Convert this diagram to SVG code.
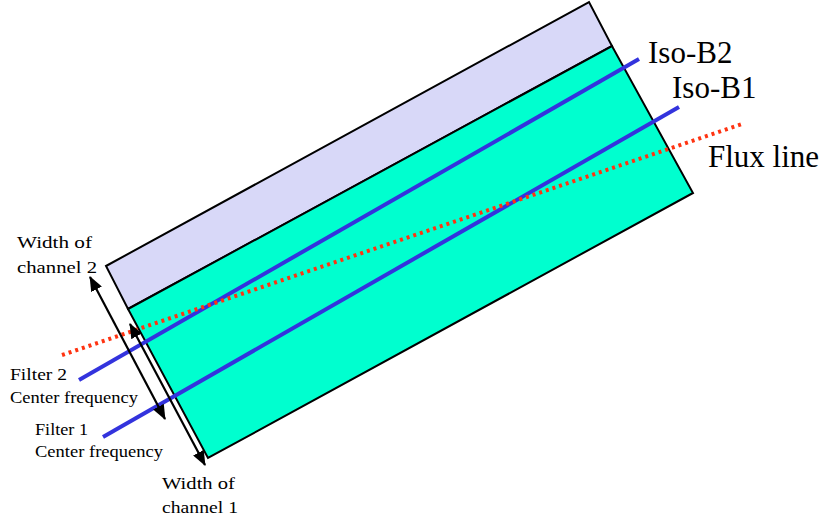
<svg xmlns="http://www.w3.org/2000/svg" width="825" height="527" viewBox="0 0 825 527">
<style>
.lbl{font-family:"Liberation Serif","Times New Roman",serif;fill:#000}
.sm{font-size:17px}
.lg{font-size:31px}
.edge{stroke:#000;stroke-width:2;stroke-linejoin:miter}
.iso{stroke:#3333dd;stroke-width:4;fill:none}
.flux{stroke:#ff3311;stroke-width:4;stroke-dasharray:3 4;fill:none}
.dim{stroke:#000;stroke-width:2.2;fill:none;marker-start:url(#ah);marker-end:url(#ah)}
</style>
<defs>
<marker id="ah" viewBox="0 0 15 12" refX="14" refY="6" markerWidth="15" markerHeight="12" markerUnits="userSpaceOnUse" orient="auto-start-reverse">
<path d="M0,0 L15,6 L0,12 Z" fill="#000"/>
</marker>
</defs>
<rect width="825" height="527" fill="#fff"/>
<g id="channel2">
<polygon class="edge" fill="#d8d8f8" points="106,266 589,2 612,46 128,309"/>
</g>
<g id="channel1">
<polygon class="edge" fill="#00ffcf" points="128,309 612,46 693,193 208,458"/>
</g>
<g id="connectors">
<line id="iso-b2" class="iso" x1="79" y1="380" x2="639" y2="59"/>
<line id="iso-b1" class="iso" x1="103" y1="437" x2="679" y2="107"/>
<line id="flux" class="flux" x1="62" y1="355" x2="742" y2="124"/>
<line id="w2" class="dim" x1="90" y1="277" x2="165" y2="419"/>
<line id="w1" class="dim" x1="130" y1="324" x2="205" y2="465"/>
</g>
<g id="labels">
<text class="lbl lg" x="648" y="63">Iso-B2</text>
<text class="lbl lg" x="672" y="98">Iso-B1</text>
<text class="lbl lg" x="708" y="167">Flux line</text>
<text class="lbl sm" x="17" y="248" textLength="75" lengthAdjust="spacingAndGlyphs">Width of</text>
<text class="lbl sm" x="17" y="273" textLength="80" lengthAdjust="spacingAndGlyphs">channel 2</text>
<text class="lbl sm" x="10" y="380" textLength="57" lengthAdjust="spacingAndGlyphs">Filter 2</text>
<text class="lbl sm" x="10" y="403" textLength="128" lengthAdjust="spacingAndGlyphs">Center frequency</text>
<text class="lbl sm" x="35" y="435" textLength="53" lengthAdjust="spacingAndGlyphs">Filter 1</text>
<text class="lbl sm" x="35" y="457" textLength="128" lengthAdjust="spacingAndGlyphs">Center frequency</text>
<text class="lbl sm" x="162" y="489" textLength="73" lengthAdjust="spacingAndGlyphs">Width of</text>
<text class="lbl sm" x="162" y="513" textLength="76" lengthAdjust="spacingAndGlyphs">channel 1</text>
</g>
</svg>
